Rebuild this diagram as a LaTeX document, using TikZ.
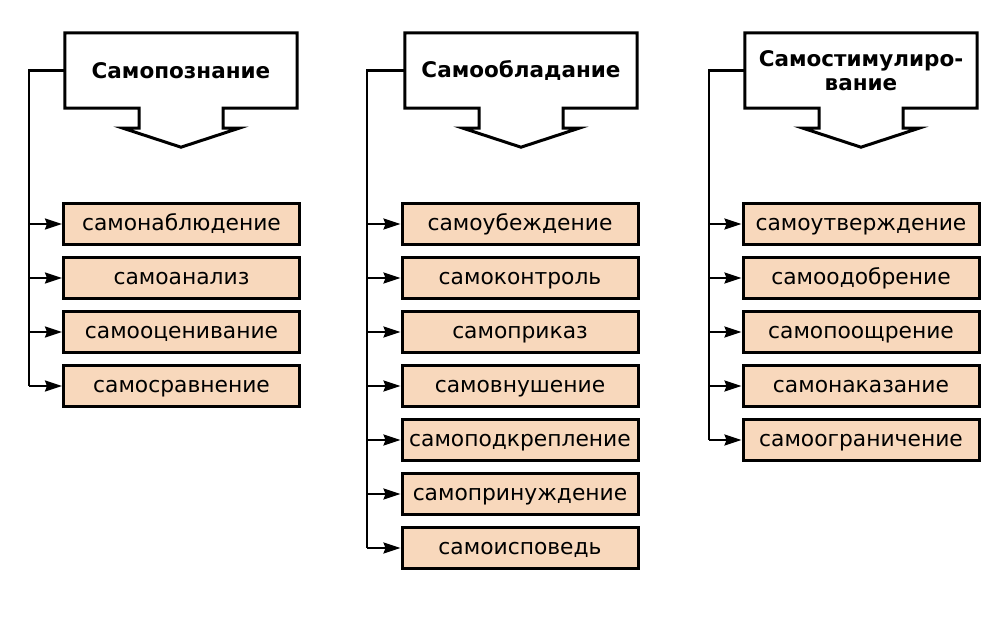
\documentclass[tikz,border=0pt]{standalone}
\usepackage{fontspec}
\setmainfont{DejaVu Sans}
\usetikzlibrary{arrows.meta,calc}
\definecolor{peach}{RGB}{248,216,188}
\tikzset{
  header/.style={minimum width=232pt, minimum height=75pt, inner sep=0pt, align=center,
                 font=\fontsize{21.5}{24}\selectfont\bfseries},
  item/.style={draw, line width=3pt, fill=peach, minimum width=236pt, minimum height=41pt,
               inner sep=0pt, text height=16pt, text depth=4pt,
               font=\fontsize{21.8}{24}\selectfont},
  conn/.style={line width=2.2pt},
  arr/.style={line width=2.2pt, -{Stealth[length=17pt,width=11pt,inset=2pt]}},
  callout/.style={line width=3pt, line join=miter},
}
\newcommand{\calloutpath}[1]{%
  \draw[callout] (#1.south west) -- (#1.north west) -- (#1.north east) -- (#1.south east)
    -- ([xshift=42pt]#1.south) -- ([shift={(42pt,-20pt)}]#1.south)
    -- ([shift={(58pt,-20pt)}]#1.south) -- ([yshift=-39pt]#1.south)
    -- ([shift={(-58pt,-20pt)}]#1.south) -- ([shift={(-42pt,-20pt)}]#1.south)
    -- ([xshift=-42pt]#1.south) -- cycle;}
\begin{document}
\begin{tikzpicture}[x=1pt,y=-1pt]
\useasboundingbox (0,0) rectangle (989,638);
% headers
\node[header] (h1) at (181,70.5) {Самопознание};
\node[header] (h2) at (521,70.5) {Самообладание};
\node[header] (h3) at (861,70.5) {Самостимулиро-\\вание};
\calloutpath{h1}
\calloutpath{h2}
\calloutpath{h3}
% column 1
\node[item] (a1) at (181.5,224) {самонаблюдение};
\node[item] (a2) at (181.5,278) {самоанализ};
\node[item] (a3) at (181.5,332) {самооценивание};
\node[item] (a4) at (181.5,386) {самосравнение};
% column 2
\node[item] (b1) at (520,224) {самоубеждение};
\node[item] (b2) at (520,278) {самоконтроль};
\node[item] (b3) at (520,332) {самоприказ};
\node[item] (b4) at (520,386) {самовнушение};
\node[item] (b5) at (520,440) {самоподкрепление};
\node[item] (b6) at (520,494) {самопринуждение};
\node[item] (b7) at (520,548) {самоисповедь};
% column 3
\node[item] (c1) at (861,224) {самоутверждение};
\node[item] (c2) at (861,278) {самоодобрение};
\node[item] (c3) at (861,332) {самопоощрение};
\node[item] (c4) at (861,386) {самонаказание};
\node[item] (c5) at (861,440) {самоограничение};
% trunk coordinates
\coordinate (ta) at (29,386);
\coordinate (tb) at (367,548);
\coordinate (tc) at (709,440);
\draw[conn] (h1.west) -| (ta);
\draw[conn] (h2.west) -| (tb);
\draw[conn] (h3.west) -| (tc);
\foreach \n in {a1,a2,a3,a4} \draw[arr] (\n.west -| ta) -- (\n.west);
\foreach \n in {b1,b2,b3,b4,b5,b6,b7} \draw[arr] (\n.west -| tb) -- (\n.west);
\foreach \n in {c1,c2,c3,c4,c5} \draw[arr] (\n.west -| tc) -- (\n.west);
\end{tikzpicture}
\end{document}
